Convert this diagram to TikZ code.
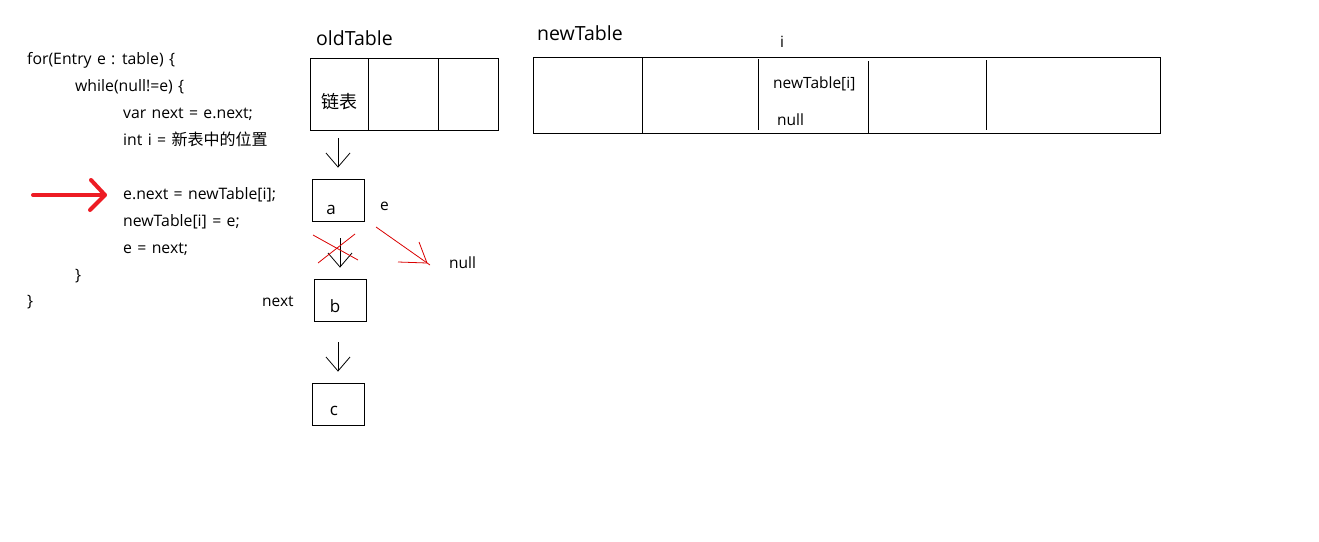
\documentclass[tikz,border=0pt]{standalone}
\usepackage{fontspec}
\setmainfont{Open Sans}[WordSpace=1.3]
\newfontfamily\cjk{Noto Sans CJK SC}
\begin{document}
\begin{tikzpicture}[x=1pt,y=-1pt,
  code/.style={anchor=base west,inner sep=0pt,font=\fontsize{15.8}{18}\selectfont},
  lbl/.style={anchor=base west,inner sep=0pt,font=\fontsize{15.5}{18}\selectfont},
  letter/.style={inner sep=0pt,font=\fontsize{17}{20}\selectfont},
  title/.style={anchor=base west,inner sep=0pt,font=\fontsize{19.5}{22}\selectfont},
  cell/.style={draw,line width=1pt,inner sep=0pt},
  listbox/.style={draw,line width=1pt,minimum width=52pt,minimum height=42pt,inner sep=0pt},
  blk/.style={line width=0.8pt},
  redthin/.style={draw=red!85!black,line width=0.8pt},
  redthick/.style={draw={rgb,255:red,237;green,28;blue,36},line width=4pt,line cap=round,line join=round}]
\useasboundingbox (0,0) rectangle (1319,541);
% code
\node[code] (l1) at (27,64) {for(Entry e : table) \{};
\node[code] (l2) at (75,91) {while(null!=e) \{};
\node[code] (l3) at (123,118) {var next = e.next;};
\node[code] (l4) at (123,145) {int i = {\cjk\fontsize{16}{18}\selectfont 新表中的位置}};
\node[code] (l5) at (123,199) {e.next = newTable[i];};
\node[code] (l6) at (123,226) {newTable[i] = e;};
\node[code] (l7) at (123,253) {e = next;};
\node[code] (l8) at (75,280) {\}};
\node[code] (l9) at (27,306) {\}};
% red pointer arrow
\coordinate (ra1) at (33,195);
\coordinate (ra2) at (105,195);
\draw[redthick] (ra1) -- (ra2);
\draw[redthick] (91,180) -- (ra2) -- (90,210);
% oldTable
\node[title] (oldt) at (316,45) {oldTable};
\node[cell,minimum width=188pt,minimum height=72pt] (old) at (404,94) {};
\draw[blk] (368,58) -- (368,130);
\draw[blk] (438,58) -- (438,130);
\node[inner sep=0pt,font=\cjk\fontsize{18}{20}\selectfont] (lb) at (339,102) {链表};
% list boxes
\node[listbox] (a) at (338.5,200) {};
\node[listbox] (b) at (340,300) {};
\node[listbox] (c) at (338,404) {};
\node[letter] (ta) at (331,210) {a};
\node[letter] (tb) at (335,306) {b};
\node[letter] (tc) at (334,411) {c};
% arrows
\coordinate (t1) at (338,138); \coordinate (h1) at (338,167);
\draw[blk] (t1) -- (h1); \draw[blk] (326,153) -- (h1) -- (350,153);
\coordinate (t2) at (340,238); \coordinate (h2) at (340,267);
\draw[blk] (t2) -- (h2); \draw[blk] (328,253) -- (h2) -- (352,253);
\coordinate (t3) at (338,342); \coordinate (h3) at (338,371);
\draw[blk] (t3) -- (h3); \draw[blk] (326,357) -- (h3) -- (350,357);
% red cross
\draw[redthin] (313,235) -- (358,260);
\draw[redthin] (318,263) -- (355,234);
% labels
\node[lbl] (e) at (380,210) {e};
\node[lbl] (nextl) at (262,306) {next};
\node[lbl] (nulla) at (449,268) {null};
% red arrow to null
\coordinate (rn1) at (376,227);
\coordinate (rn2) at (427,263);
\draw[redthin] (rn1) -- (430,265);
\draw[redthin] (419,242) -- (rn2) -- (398,262);
% newTable
\node[title] (newt) at (537,40) {newTable};
\node[lbl] (il) at (780,47) {i};
\node[cell,minimum width=627pt,minimum height=76pt] (new) at (846.5,95) {};
\draw[blk] (642,57) -- (642,133);
\draw[blk] (758,59) -- (758,130);
\draw[blk] (868,61) -- (868,133);
\draw[blk] (986,60) -- (986,130);
\node[lbl] (nti) at (773,88) {newTable[i]};
\node[lbl] (ntnull) at (777,125) {null};
\end{tikzpicture}
\end{document}
